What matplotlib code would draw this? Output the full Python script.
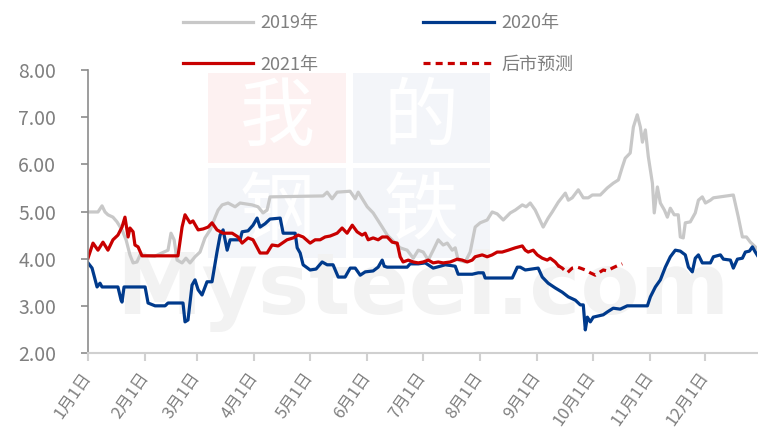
import matplotlib
matplotlib.use('Agg')
import matplotlib.pyplot as plt
from matplotlib.patches import Rectangle

plt.rcParams['font.family'] = ['Noto Sans CJK SC', 'DejaVu Sans']

# day of year (0 = 1月1日) and price
days_2019 = [0, 5.4, 7.6, 9.2, 10.8, 13.5, 15.7, 18.4, 20.6, 22.7, 24.4, 26.5, 28.2, 36, 43.3,
             44.9, 46.6, 48.2, 50.9, 53, 55.2, 57.9, 60.6, 63.3, 66.1, 68.8, 70.4, 72.6, 75.8,
             79.6, 82.3, 88.8, 92, 94.7, 96.9, 98.5, 127.2, 129.4, 132.1, 134.8, 141.8, 144.6,
             146.2, 151.1, 154.3, 159.2, 161.9, 167.3, 168.9, 172.7, 176, 178.7, 181.4, 184.1,
             186.8, 189.5, 192.2, 194.4, 197.1, 198.7, 200.3, 204.1, 206.8, 209.5, 212.2, 216,
             218.7, 221.4, 224.7, 228.5, 231.2, 235, 237.1, 239.3, 242, 246.3, 249, 251.2,
             254.5, 258.3, 259.9, 262, 265.3, 268, 270.7, 272.9, 277.2, 281, 284.2, 287, 289.1,
             290.7, 293.4, 295.1, 297.2, 298.9, 300, 301.6, 303.2, 305.4, 306.4, 308.1, 309.7,
             311.9, 313.5, 315.1, 317.2, 319.4, 320.5, 322.1, 323.2, 325.9, 328.6, 330.3,
             332.4, 334.1, 336.8, 338.4, 349.2, 351.9, 354.1, 356.3, 358.4, 361.1, 362.7]
vals_2019 = [4.99, 4.99, 5.12, 4.99, 4.93, 4.88, 4.78, 4.61, 4.40, 4.08, 3.91, 3.93, 4.08, 4.05, 4.18,
             4.54, 4.40, 3.97, 3.91, 4.01, 3.91, 4.04, 4.14, 4.44, 4.61, 4.88, 5.03, 5.14, 5.18,
             5.10, 5.18, 5.14, 5.10, 4.97, 5.03, 5.31, 5.33, 5.41, 5.27, 5.41, 5.43, 5.27,
             5.41, 5.10, 4.97, 4.67, 4.50, 4.29, 4.23, 4.18, 4.01, 4.18, 4.14, 3.97,
             4.18, 4.40, 4.29, 4.33, 4.18, 4.23, 3.97, 3.93, 4.14, 4.67, 4.76, 4.82,
             4.99, 4.95, 4.82, 4.97, 5.03, 5.14, 5.10, 5.18, 5.03, 4.67, 4.86, 4.99,
             5.20, 5.39, 5.24, 5.29, 5.46, 5.29, 5.29, 5.35, 5.35, 5.50, 5.60, 5.67, 5.94,
             6.13, 6.24, 6.79, 7.05, 6.79, 6.47, 6.73, 6.16, 5.60, 4.97, 5.52, 5.18,
             5.03, 4.88, 5.07, 4.93, 4.93, 4.46, 4.44, 4.76, 4.78, 4.97, 5.24,
             5.31, 5.18, 5.24, 5.29, 5.35, 4.88, 4.46, 4.46, 4.35, 4.25, 4.18]

days_2020 = [0, 2.2, 4.9, 6.5, 7.6, 16.2, 17.9, 18.4, 19.5, 30.9, 32.5, 36.3, 41.7, 43.3, 51.4,
             52.5, 54.1, 56.3, 57.9, 59.6, 61.7, 64.4, 67.1, 69.8, 71.5, 73.1, 75.3, 76.9, 82.3,
             83.4, 86.6, 89.3, 91.5, 93.1, 95.8, 98.5, 104, 105.6, 112.1, 113.2, 114.8, 116.4,
             120.2, 123.4, 126.7, 129.4, 132.6, 135.4, 139.1, 141.9, 144.6, 147.3, 150, 154.3,
             157, 159.2, 160.3, 161.9, 172.7, 174.3, 178.7, 182.5, 186.8, 190.6, 193.3, 198.7,
             200.3, 207.9, 211.2, 213.9, 214.9, 229.6, 232.3, 233.9, 236.6, 243.6, 245.8, 249,
             252.8, 256.6, 259.9, 263.7, 266.4, 268, 269.1, 270.2, 271.8, 273.4, 278.8, 281,
             284.2, 288, 291.8, 302.7, 304.3, 307, 309.7, 312.4, 315.1, 317.8, 320.5, 323.2,
             324.9, 327, 328.6, 330.3, 332.4, 336.8, 338.4, 342.2, 343.8, 347.6, 349.2, 351.4,
             354.1, 355.7, 357.9, 359.5, 361.1, 362.7]
vals_2020 = [3.91, 3.80, 3.40, 3.48, 3.40, 3.40, 3.12, 3.08, 3.40, 3.40, 3.06, 3.00, 3.00, 3.06, 3.06,
             2.66, 2.70, 3.44, 3.55, 3.34, 3.23, 3.51, 3.51, 4.14, 4.50, 4.61, 4.18, 4.40, 4.40,
             4.57, 4.59, 4.71, 4.86, 4.67, 4.74, 4.84, 4.86, 4.54, 4.54, 4.23, 4.12, 3.87,
             3.76, 3.78, 3.93, 3.87, 3.87, 3.61, 3.61, 3.80, 3.80, 3.65, 3.72, 3.74,
             3.82, 3.97, 3.84, 3.82, 3.82, 3.89, 3.89, 3.91, 3.80, 3.84, 3.87, 3.84,
             3.67, 3.67, 3.70, 3.70, 3.59, 3.59, 3.82, 3.82, 3.76, 3.80, 3.61, 3.48,
             3.38, 3.29, 3.19, 3.12, 3.02, 3.02, 2.49, 2.76, 2.66, 2.76, 2.81, 2.87,
             2.95, 2.93, 3.00, 3.00, 3.19, 3.40, 3.55, 3.82, 4.04, 4.18, 4.16, 4.08,
             3.82, 3.72, 4.01, 4.08, 3.91, 3.91, 4.04, 4.08, 3.99, 3.97, 3.80, 3.99,
             4.01, 4.14, 4.16, 4.25, 4.14, 4.04]

days_2021 = [0, 2.7, 5.4, 8.1, 10.8, 13.5, 16.2, 18.4, 20, 21.7, 22.7, 24.4, 25.4, 27.1, 29.2,
             48.7, 50.9, 52.5, 55.2, 56.8, 59.6, 62.3, 65, 67.1, 69.8, 73.1, 78, 81.2, 83.4,
             86.6, 89.3, 93.1, 96.9, 99.6, 102.9, 107.7, 111, 113.7, 116.4, 120.2, 122.9, 125.6,
             128.3, 131, 134.8, 137.5, 140.2, 143, 145.6, 148.3, 150, 151.6, 154.3, 157, 159.2,
             161.9, 164.6, 167.3, 168.9, 170.5, 173.3, 176, 178.7, 181.4, 184.1, 186.8, 189.5,
             192.2, 196, 199.8, 202.5, 205.2, 207.9, 209.5, 213.3, 216, 218.7, 221.4, 224.1,
             227.4, 231.2, 235, 236.6, 238.2, 240.9, 243.1, 245.8, 248.5, 250.1, 252.8, 254.5]
vals_2021 = [4.01, 4.33, 4.18, 4.35, 4.18, 4.40, 4.50, 4.67, 4.88, 4.46, 4.65, 4.57, 4.29, 4.25, 4.06,
             4.06, 4.67, 4.93, 4.76, 4.80, 4.61, 4.63, 4.67, 4.76, 4.61, 4.54, 4.54, 4.46, 4.33,
             4.44, 4.40, 4.12, 4.12, 4.29, 4.27, 4.40, 4.44, 4.50, 4.46, 4.33, 4.40, 4.40,
             4.46, 4.48, 4.54, 4.65, 4.54, 4.71, 4.57, 4.50, 4.54, 4.40, 4.44, 4.40, 4.46,
             4.46, 4.35, 4.33, 4.04, 3.93, 3.97, 3.93, 3.91, 3.93, 3.97, 3.91, 3.93,
             3.91, 3.93, 3.99, 3.97, 3.93, 3.97, 4.04, 4.08, 4.04, 4.08, 4.14, 4.14,
             4.18, 4.23, 4.27, 4.18, 4.14, 4.18, 4.08, 4.01, 3.97, 4.01, 3.93, 3.85]

days_fc = [254.5, 256.6, 259.3, 262, 264.8, 266.4, 269.1, 271.8, 274.5, 277.2, 278.8, 281,
           283.7, 286.4, 289.1]
vals_fc = [3.85, 3.80, 3.70, 3.80, 3.82, 3.80, 3.76, 3.70, 3.65, 3.72, 3.76, 3.74,
           3.80, 3.85, 3.89]

month_starts = [0, 31, 59, 90, 120, 151, 181, 212, 243, 273, 304, 334]
month_labels = ['%d月1日' % m for m in range(1, 13)]
y_ticks = [2, 3, 4, 5, 6, 7, 8]

grey = '#c8c8c8'
blue = '#003a8c'
red = '#c80000'
text_c = '#7f7f7f'

W, H = 758, 447
fig = plt.figure(figsize=(W / 100, H / 100), dpi=100)

# faint watermark in the background
def wm_box(x0, y0, x1, y1, fc, ch):
    fig.patches.append(Rectangle((x0 / W, 1 - y1 / H), (x1 - x0) / W, (y1 - y0) / H,
                                 transform=fig.transFigure, fc=fc, ec='none', zorder=-3))
    fig.text((x0 + x1) / 2 / W, 1 - (y0 + y1) / 2 / H, ch, color='white', fontsize=54,
             ha='center', va='center', zorder=-2)

wm_box(208, 73, 346, 163, '#fdf1f1', '我')
wm_box(353, 73, 490, 163, '#f3f5f9', '的')
wm_box(208, 168, 346, 258, '#f3f5f9', '钢')
wm_box(353, 168, 490, 258, '#f3f5f9', '铁')
fig.text(116 / W, 1 - 290 / H, 'Mysteel.com', color='#f2f2f2', fontsize=62,
         fontweight='bold', ha='left', va='center', family='DejaVu Sans', zorder=-1)

ax = fig.add_axes([88 / W, 1 - 353 / H, (757 - 88) / W, (353 - 70) / H])
ax.patch.set_alpha(0)

l19, = ax.plot(days_2019, vals_2019, color=grey, lw=2.3, solid_joinstyle='round')
l20, = ax.plot(days_2020, vals_2020, color=blue, lw=2.3, solid_joinstyle='round')
l21, = ax.plot(days_2021, vals_2021, color=red, lw=2.3, solid_joinstyle='round')
lfc, = ax.plot(days_fc, vals_fc, color=red, lw=2.3, linestyle=(0, (2.2, 1.6)))

ax.set_xlim(0, 362)
ax.set_ylim(2, 8)
ax.set_yticks(y_ticks)
ax.set_yticklabels(['%.2f' % v for v in y_ticks])
ax.set_xticks(month_starts)
ax.set_xticklabels(month_labels, rotation=55, ha='right', va='center',
                   rotation_mode='anchor')

for s in ['top', 'right']:
    ax.spines[s].set_visible(False)
ax.spines['left'].set_color('#8c8c8c')
ax.spines['left'].set_linewidth(1.2)
ax.spines['bottom'].set_color('#d0d0d0')
ax.spines['bottom'].set_linewidth(1.5)
ax.tick_params(axis='y', colors='#8c8c8c', length=5, width=1.2, labelsize=14,
               labelcolor=text_c, pad=18)
ax.tick_params(axis='x', colors='#d0d0d0', length=6, width=1.5, labelsize=12,
               labelcolor=text_c, pad=9)

fig.legend([l19, l21, l20, lfc], ['2019年', '2021年', '2020年', '后市预测'],
           ncol=2, loc='center left', bbox_to_anchor=(183 / W, 1 - 44 / H),
           frameon=False, fontsize=13, labelcolor=text_c, handlelength=3.9,
           handletextpad=0.4, columnspacing=5.8, labelspacing=1.3, borderpad=0,
           borderaxespad=0)

fig.savefig('out.png', dpi=100)
